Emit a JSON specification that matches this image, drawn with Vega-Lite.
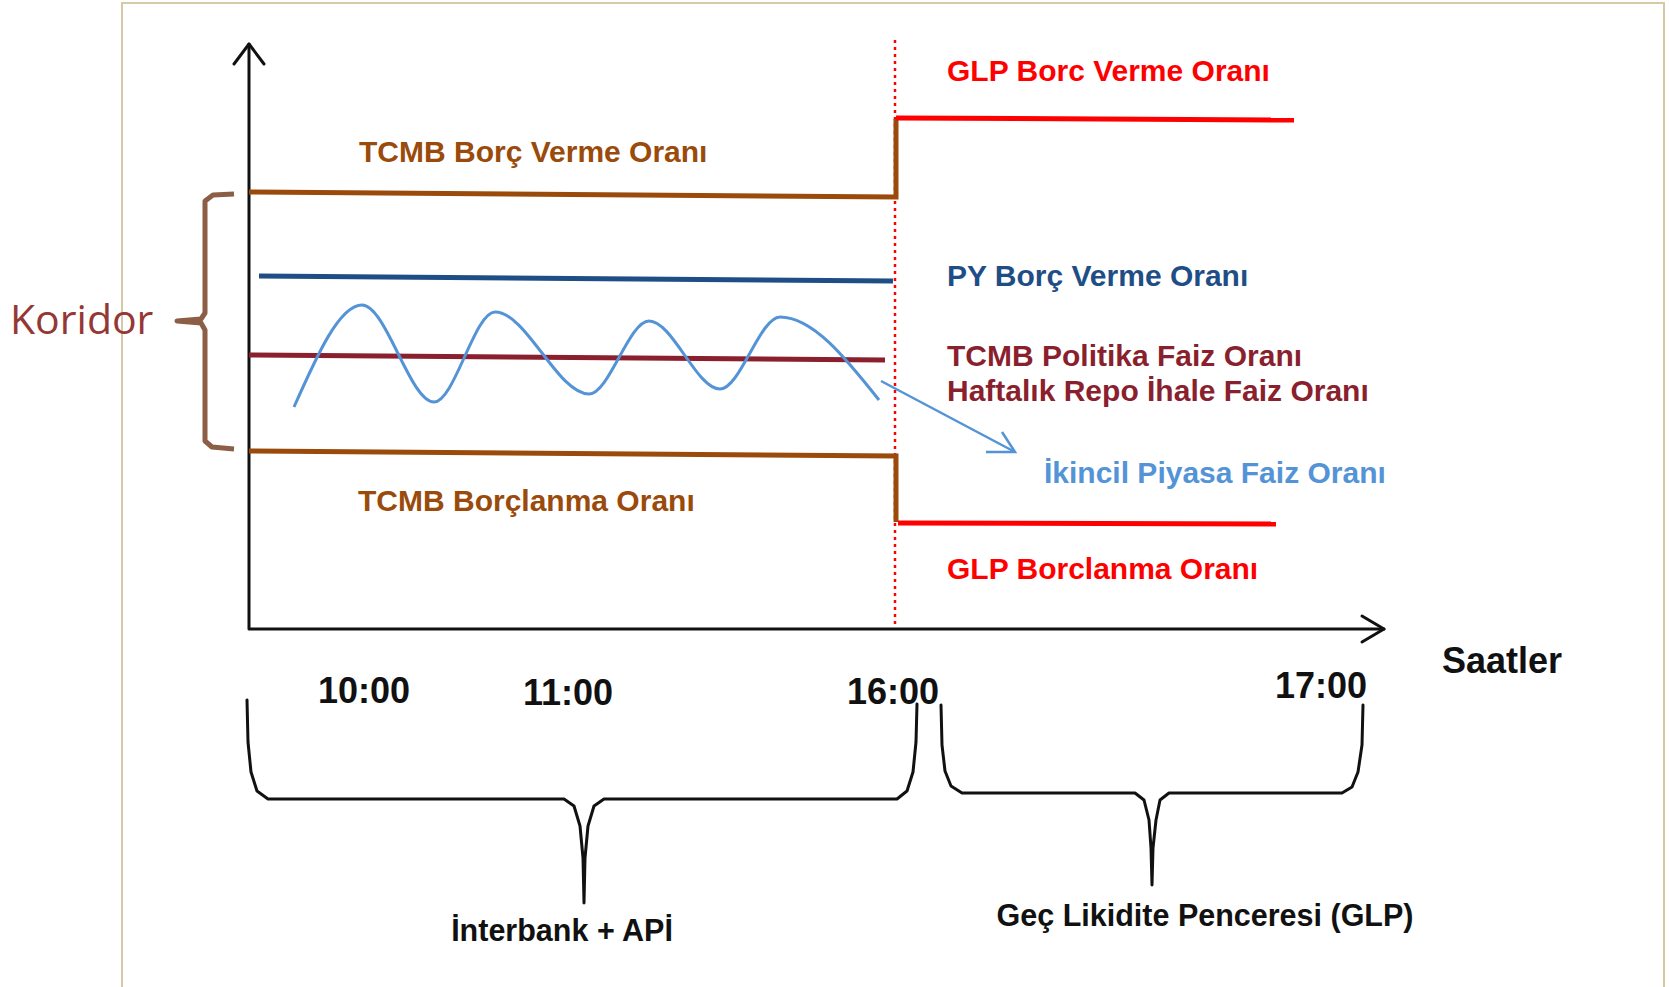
{
  "$schema": "https://vega.github.io/schema/vega-lite/v6.json",
  "width": 1669,
  "height": 987,
  "autosize": {"type": "none"},
  "padding": 0,
  "background": "white",
  "config": {"view": {"stroke": null}},
  "datasets": {
    "paths": [
      {"path": "frame", "series": "Çerçeve", "i": 0, "x": 122, "y": 987},
      {"path": "frame", "series": "Çerçeve", "i": 1, "x": 122, "y": 3},
      {"path": "frame", "series": "Çerçeve", "i": 2, "x": 1664, "y": 3},
      {"path": "frame", "series": "Çerçeve", "i": 3, "x": 1664, "y": 987},

      {"path": "yaxis", "series": "Eksen", "i": 0, "x": 249, "y": 44},
      {"path": "yaxis", "series": "Eksen", "i": 1, "x": 249, "y": 629},
      {"path": "yaxis", "series": "Eksen", "i": 2, "x": 1384, "y": 629},
      {"path": "yhead", "series": "Eksen", "i": 0, "x": 234, "y": 64},
      {"path": "yhead", "series": "Eksen", "i": 1, "x": 249, "y": 44},
      {"path": "yhead", "series": "Eksen", "i": 2, "x": 264, "y": 64},
      {"path": "xhead", "series": "Eksen", "i": 0, "x": 1362, "y": 616},
      {"path": "xhead", "series": "Eksen", "i": 1, "x": 1384, "y": 629},
      {"path": "xhead", "series": "Eksen", "i": 2, "x": 1362, "y": 642},

      {"path": "dikey", "series": "GLP Borç Verme", "i": 0, "x": 895, "y": 40},
      {"path": "dikey", "series": "GLP Borç Verme", "i": 1, "x": 895, "y": 629},

      {"path": "borc_verme", "series": "TCMB Borç Verme", "i": 0, "x": 249, "y": 192},
      {"path": "borc_verme", "series": "TCMB Borç Verme", "i": 1, "x": 896, "y": 197},
      {"path": "borc_verme", "series": "TCMB Borç Verme", "i": 2, "x": 896, "y": 119},
      {"path": "glp_verme", "series": "GLP Borç Verme", "i": 0, "x": 896, "y": 118},
      {"path": "glp_verme", "series": "GLP Borç Verme", "i": 1, "x": 1294, "y": 120},
      {"path": "py", "series": "PY Borç Verme", "i": 0, "x": 259, "y": 276},
      {"path": "py", "series": "PY Borç Verme", "i": 1, "x": 893, "y": 281},
      {"path": "politika", "series": "Politika", "i": 0, "x": 249, "y": 355},
      {"path": "politika", "series": "Politika", "i": 1, "x": 885, "y": 360},
      {"path": "borclanma", "series": "TCMB Borçlanma", "i": 0, "x": 249, "y": 451},
      {"path": "borclanma", "series": "TCMB Borçlanma", "i": 1, "x": 896, "y": 456},
      {"path": "borclanma", "series": "TCMB Borçlanma", "i": 2, "x": 896, "y": 522},
      {"path": "glp_borclanma", "series": "GLP Borçlanma", "i": 0, "x": 898, "y": 523},
      {"path": "glp_borclanma", "series": "GLP Borçlanma", "i": 1, "x": 1276, "y": 524},

      {"path": "dalga", "series": "İkincil Piyasa", "i": 0, "x": 294, "y": 407},
      {"path": "dalga", "series": "İkincil Piyasa", "i": 1, "x": 362, "y": 305},
      {"path": "dalga", "series": "İkincil Piyasa", "i": 2, "x": 434, "y": 402},
      {"path": "dalga", "series": "İkincil Piyasa", "i": 3, "x": 495, "y": 312},
      {"path": "dalga", "series": "İkincil Piyasa", "i": 4, "x": 589, "y": 394},
      {"path": "dalga", "series": "İkincil Piyasa", "i": 5, "x": 649, "y": 321},
      {"path": "dalga", "series": "İkincil Piyasa", "i": 6, "x": 720, "y": 389},
      {"path": "dalga", "series": "İkincil Piyasa", "i": 7, "x": 780, "y": 317},
      {"path": "dalga", "series": "İkincil Piyasa", "i": 8, "x": 879, "y": 400},

      {"path": "ok", "series": "İkincil Piyasa", "i": 0, "x": 881, "y": 381},
      {"path": "ok", "series": "İkincil Piyasa", "i": 1, "x": 1015, "y": 452},
      {"path": "ok_uc", "series": "İkincil Piyasa", "i": 0, "x": 986, "y": 452},
      {"path": "ok_uc", "series": "İkincil Piyasa", "i": 1, "x": 1015, "y": 452},
      {"path": "ok_uc", "series": "İkincil Piyasa", "i": 2, "x": 1002, "y": 432},

      {"path": "koridor", "series": "Koridor ayracı", "i": 0, "x": 234, "y": 194},
      {"path": "koridor", "series": "Koridor ayracı", "i": 1, "x": 213, "y": 195},
      {"path": "koridor", "series": "Koridor ayracı", "i": 2, "x": 205, "y": 201},
      {"path": "koridor", "series": "Koridor ayracı", "i": 3, "x": 205, "y": 313},
      {"path": "koridor", "series": "Koridor ayracı", "i": 4, "x": 201, "y": 319},
      {"path": "koridor", "series": "Koridor ayracı", "i": 5, "x": 177, "y": 321},
      {"path": "koridor", "series": "Koridor ayracı", "i": 6, "x": 201, "y": 323},
      {"path": "koridor", "series": "Koridor ayracı", "i": 7, "x": 205, "y": 330},
      {"path": "koridor", "series": "Koridor ayracı", "i": 8, "x": 205, "y": 441},
      {"path": "koridor", "series": "Koridor ayracı", "i": 9, "x": 212, "y": 447},
      {"path": "koridor", "series": "Koridor ayracı", "i": 10, "x": 234, "y": 449},

      {"path": "ayrac1", "series": "Eksen", "i": 0, "x": 247, "y": 700},
      {"path": "ayrac1", "series": "Eksen", "i": 1, "x": 248, "y": 742},
      {"path": "ayrac1", "series": "Eksen", "i": 2, "x": 251, "y": 772},
      {"path": "ayrac1", "series": "Eksen", "i": 3, "x": 257, "y": 791},
      {"path": "ayrac1", "series": "Eksen", "i": 4, "x": 268, "y": 799},
      {"path": "ayrac1", "series": "Eksen", "i": 5, "x": 564, "y": 799},
      {"path": "ayrac1", "series": "Eksen", "i": 6, "x": 574, "y": 806},
      {"path": "ayrac1", "series": "Eksen", "i": 7, "x": 580, "y": 826},
      {"path": "ayrac1", "series": "Eksen", "i": 8, "x": 583, "y": 858},
      {"path": "ayrac1", "series": "Eksen", "i": 9, "x": 584, "y": 903},
      {"path": "ayrac1", "series": "Eksen", "i": 10, "x": 585, "y": 858},
      {"path": "ayrac1", "series": "Eksen", "i": 11, "x": 588, "y": 826},
      {"path": "ayrac1", "series": "Eksen", "i": 12, "x": 594, "y": 806},
      {"path": "ayrac1", "series": "Eksen", "i": 13, "x": 604, "y": 799},
      {"path": "ayrac1", "series": "Eksen", "i": 14, "x": 897, "y": 799},
      {"path": "ayrac1", "series": "Eksen", "i": 15, "x": 907, "y": 791},
      {"path": "ayrac1", "series": "Eksen", "i": 16, "x": 913, "y": 772},
      {"path": "ayrac1", "series": "Eksen", "i": 17, "x": 916, "y": 742},
      {"path": "ayrac1", "series": "Eksen", "i": 18, "x": 917, "y": 704},

      {"path": "ayrac2", "series": "Eksen", "i": 0, "x": 941, "y": 705},
      {"path": "ayrac2", "series": "Eksen", "i": 1, "x": 942, "y": 745},
      {"path": "ayrac2", "series": "Eksen", "i": 2, "x": 945, "y": 771},
      {"path": "ayrac2", "series": "Eksen", "i": 3, "x": 951, "y": 786},
      {"path": "ayrac2", "series": "Eksen", "i": 4, "x": 962, "y": 793},
      {"path": "ayrac2", "series": "Eksen", "i": 5, "x": 1135, "y": 793},
      {"path": "ayrac2", "series": "Eksen", "i": 6, "x": 1144, "y": 800},
      {"path": "ayrac2", "series": "Eksen", "i": 7, "x": 1149, "y": 820},
      {"path": "ayrac2", "series": "Eksen", "i": 8, "x": 1151, "y": 848},
      {"path": "ayrac2", "series": "Eksen", "i": 9, "x": 1152, "y": 885},
      {"path": "ayrac2", "series": "Eksen", "i": 10, "x": 1153, "y": 848},
      {"path": "ayrac2", "series": "Eksen", "i": 11, "x": 1156, "y": 820},
      {"path": "ayrac2", "series": "Eksen", "i": 12, "x": 1160, "y": 800},
      {"path": "ayrac2", "series": "Eksen", "i": 13, "x": 1169, "y": 793},
      {"path": "ayrac2", "series": "Eksen", "i": 14, "x": 1342, "y": 793},
      {"path": "ayrac2", "series": "Eksen", "i": 15, "x": 1352, "y": 787},
      {"path": "ayrac2", "series": "Eksen", "i": 16, "x": 1358, "y": 772},
      {"path": "ayrac2", "series": "Eksen", "i": 17, "x": 1362, "y": 745},
      {"path": "ayrac2", "series": "Eksen", "i": 18, "x": 1363, "y": 705}
    ],
    "labels": [
      {"kind": "oran", "series": "TCMB Borç Verme", "text": "TCMB Borç Verme Oranı", "x": 359, "y": 153},
      {"kind": "oran", "series": "GLP Borç Verme", "text": "GLP Borc Verme Oranı", "x": 947, "y": 72},
      {"kind": "oran", "series": "PY Borç Verme", "text": "PY Borç Verme Oranı", "x": 947, "y": 277},
      {"kind": "oran", "series": "Politika", "text": "TCMB Politika Faiz Oranı", "x": 947, "y": 357},
      {"kind": "oran", "series": "Politika", "text": "Haftalık Repo İhale Faiz Oranı", "x": 947, "y": 392},
      {"kind": "oran", "series": "İkincil Piyasa", "text": "İkincil Piyasa Faiz Oranı", "x": 1044, "y": 474},
      {"kind": "oran", "series": "TCMB Borçlanma", "text": "TCMB Borçlanma Oranı", "x": 358, "y": 502},
      {"kind": "oran", "series": "GLP Borçlanma", "text": "GLP Borclanma Oranı", "x": 947, "y": 570},
      {"kind": "koridor", "series": "Koridor", "text": "Koridor", "x": 10, "y": 322},
      {"kind": "eksen", "series": "Eksen", "text": "Saatler", "x": 1442, "y": 662},
      {"kind": "saat", "series": "Eksen", "text": "10:00", "x": 364, "y": 692},
      {"kind": "saat", "series": "Eksen", "text": "11:00", "x": 568, "y": 694},
      {"kind": "saat", "series": "Eksen", "text": "16:00", "x": 893, "y": 693},
      {"kind": "saat", "series": "Eksen", "text": "17:00", "x": 1321, "y": 687},
      {"kind": "aralik", "series": "Eksen", "text": "İnterbank + APİ", "x": 562, "y": 932},
      {"kind": "aralik", "series": "Eksen", "text": "Geç Likidite Penceresi (GLP)", "x": 1205, "y": 917}
    ]
  },
  "encoding": {
    "x": {"field": "x", "type": "quantitative", "axis": null, "scale": {"domain": [0, 1669], "nice": false, "zero": false}},
    "y": {"field": "y", "type": "quantitative", "axis": null, "scale": {"domain": [0, 987], "reverse": true, "nice": false, "zero": false}},
    "color": {
      "field": "series", "type": "nominal", "legend": null,
      "scale": {
        "domain": ["Çerçeve", "Eksen", "TCMB Borç Verme", "TCMB Borçlanma", "GLP Borç Verme", "GLP Borçlanma", "PY Borç Verme", "Politika", "İkincil Piyasa", "Koridor ayracı", "Koridor"],
        "range": ["#D7C8A6", "#111111", "#9A4B0B", "#9A4B0B", "#FF0000", "#FF0000", "#1F4E86", "#8A1F2E", "#5494D6", "#8B5E45", "#953735"]
      }
    }
  },
  "layer": [
    {
      "data": {"name": "paths"},
      "transform": [{"filter": "datum.path === 'frame'"}],
      "mark": {"type": "line", "strokeWidth": 2},
      "encoding": {"detail": {"field": "path"}, "order": {"field": "i"}}
    },
    {
      "data": {"name": "paths"},
      "transform": [{"filter": "datum.path === 'dikey'"}],
      "mark": {"type": "line", "strokeWidth": 2.5, "strokeDash": [3, 4]},
      "encoding": {"detail": {"field": "path"}, "order": {"field": "i"}}
    },
    {
      "data": {"name": "paths"},
      "transform": [{"filter": "indexof(['yaxis','yhead','xhead','ayrac1','ayrac2'], datum.path) >= 0"}],
      "mark": {"type": "line", "strokeWidth": 3, "strokeJoin": "round", "strokeCap": "round"},
      "encoding": {"detail": {"field": "path"}, "order": {"field": "i"}}
    },
    {
      "data": {"name": "paths"},
      "transform": [{"filter": "indexof(['borc_verme','glp_verme','py','politika','borclanma','glp_borclanma'], datum.path) >= 0"}],
      "mark": {"type": "line", "strokeWidth": 5, "strokeJoin": "miter"},
      "encoding": {"detail": {"field": "path"}, "order": {"field": "i"}}
    },
    {
      "data": {"name": "paths"},
      "transform": [{"filter": "datum.path === 'dalga'"}],
      "mark": {"type": "line", "strokeWidth": 3, "interpolate": "monotone"},
      "encoding": {"detail": {"field": "path"}, "order": {"field": "i"}}
    },
    {
      "data": {"name": "paths"},
      "transform": [{"filter": "datum.path === 'ok' || datum.path === 'ok_uc'"}],
      "mark": {"type": "line", "strokeWidth": 2.5},
      "encoding": {"detail": {"field": "path"}, "order": {"field": "i"}}
    },
    {
      "data": {"name": "paths"},
      "transform": [{"filter": "datum.path === 'koridor'"}],
      "mark": {"type": "line", "strokeWidth": 5, "interpolate": "linear", "strokeJoin": "round"},
      "encoding": {"detail": {"field": "path"}, "order": {"field": "i"}}
    },
    {
      "data": {"name": "labels"},
      "transform": [{"filter": "datum.kind === 'oran'"}],
      "mark": {"type": "text", "align": "left", "baseline": "middle", "font": "Liberation Sans", "fontWeight": "bold", "fontSize": 30},
      "encoding": {"text": {"field": "text"}}
    },
    {
      "data": {"name": "labels"},
      "transform": [{"filter": "datum.kind === 'koridor'"}],
      "mark": {"type": "text", "align": "left", "baseline": "middle", "font": "Open Sans", "fontSize": 41},
      "encoding": {"text": {"field": "text"}}
    },
    {
      "data": {"name": "labels"},
      "transform": [{"filter": "datum.kind === 'eksen'"}],
      "mark": {"type": "text", "align": "left", "baseline": "middle", "font": "Liberation Sans", "fontWeight": "bold", "fontSize": 36},
      "encoding": {"text": {"field": "text"}}
    },
    {
      "data": {"name": "labels"},
      "transform": [{"filter": "datum.kind === 'saat'"}],
      "mark": {"type": "text", "align": "center", "baseline": "middle", "font": "Liberation Sans", "fontWeight": "bold", "fontSize": 36},
      "encoding": {"text": {"field": "text"}}
    },
    {
      "data": {"name": "labels"},
      "transform": [{"filter": "datum.kind === 'aralik'"}],
      "mark": {"type": "text", "align": "center", "baseline": "middle", "font": "Liberation Sans", "fontWeight": "bold", "fontSize": 30.5},
      "encoding": {"text": {"field": "text"}}
    }
  ]
}
